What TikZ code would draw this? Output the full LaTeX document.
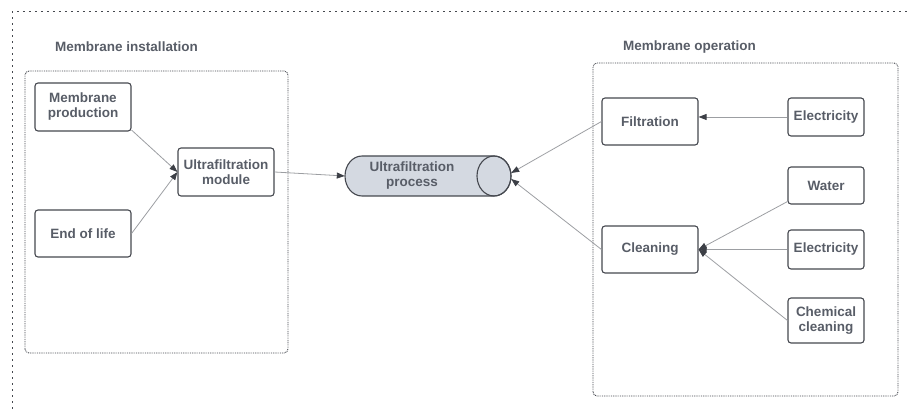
\documentclass[tikz,border=0pt]{standalone}
\usepackage{fontspec}
\setmainfont{Liberation Sans}
\usetikzlibrary{arrows.meta}
\definecolor{txt}{HTML}{585D67}
\definecolor{edge}{HTML}{45484F}
\definecolor{wire}{HTML}{9C9EA2}
\definecolor{tipc}{HTML}{3C3F46}
\definecolor{cylfill}{HTML}{D4D9E1}
\tikzset{
  box/.style={draw=edge, line width=1.1pt, rounded corners=3pt,
    inner sep=0pt, align=center, text=txt,
    font=\fontsize{13.5}{15}\selectfont\bfseries},
  grouplabel/.style={text=txt, font=\fontsize{13.5}{15}\selectfont\bfseries},
  group/.style={draw=edge, line width=0.9pt, dash pattern=on 0.9pt off 0.9pt, rounded corners=4pt},
  frame/.style={draw=edge, line width=1pt, dash pattern=on 1.6pt off 4.4pt},
  link/.style={draw=wire, line width=0.8pt, -{Triangle[length=8pt,width=6pt,color=tipc]}},
}
\begin{document}
\begin{tikzpicture}[x=1pt,y=1pt]
\useasboundingbox (0,0) rectangle (909,409);
% outer frame, open at the right and bottom
\draw[frame] (12,0) -- (12,397) -- (909,397);
% group frames
\draw[group] (25,56) rectangle (288,338);
\draw[group] (593,13) rectangle (898,346);
\node[grouplabel] (lblinst) at (126.5,362) {Membrane installation};
\node[grouplabel] (lblop) at (689.5,362) {Membrane operation};
% installation side
\node[box, minimum width=96pt, minimum height=48pt] (mp) at (83,302) {Membrane\\production};
\node[box, minimum width=96pt, minimum height=47pt] (eol) at (83,175.5) {End of life};
\node[box, minimum width=96pt, minimum height=48pt] (ufm) at (226,237) {Ultrafiltration\\module};
% process cylinder
\node[minimum width=166pt, minimum height=40pt, inner sep=0pt] (cyl) at (428,233) {};
\fill[cylfill] (362,253) -- (494,253) arc (90:-90:17 and 20) -- (362,213) arc (270:90:17 and 20) -- cycle;
\draw[edge, line width=1.1pt] (362,253) -- (494,253) arc (90:-90:17 and 20) -- (362,213) arc (270:90:17 and 20) -- cycle;
\draw[edge, line width=1.1pt] (494,233) ellipse (17 and 20);
\node[align=center, text=txt, font=\fontsize{13.5}{15}\selectfont\bfseries] (cyltxt) at (412,233) {Ultrafiltration\\process};
% operation side
\node[box, minimum width=96pt, minimum height=47pt] (filt) at (650,287.5) {Filtration};
\node[box, minimum width=76pt, minimum height=38pt] (el1) at (826,292) {Electricity};
\node[box, minimum width=76pt, minimum height=37pt] (water) at (826,223.5) {Water};
\node[box, minimum width=96pt, minimum height=47pt] (clean) at (650,159.5) {Cleaning};
\node[box, minimum width=76pt, minimum height=39pt] (el2) at (826,159.5) {Electricity};
\node[box, minimum width=76pt, minimum height=45pt] (chem) at (826,88.5) {Chemical\\cleaning};
% connectors
\draw[link] ([yshift=1.5pt]mp.south east) -- (ufm.west);
\draw[link] (eol.east) -- (ufm.west);
\draw[link] (ufm.east) -- (cyl.west);
\draw[link] (filt.west) -- ([yshift=3pt]cyl.east);
\draw[link] (clean.west) -- ([yshift=-3pt]cyl.east);
\draw[link] (el1.west) -- (el1.west -| filt.east);
\draw[link] ([yshift=3pt]water.south west) -- (clean.east);
\draw[link] (el2.west) -- (clean.east);
\draw[link] (chem.west) -- (clean.east);
\end{tikzpicture}
\end{document}
